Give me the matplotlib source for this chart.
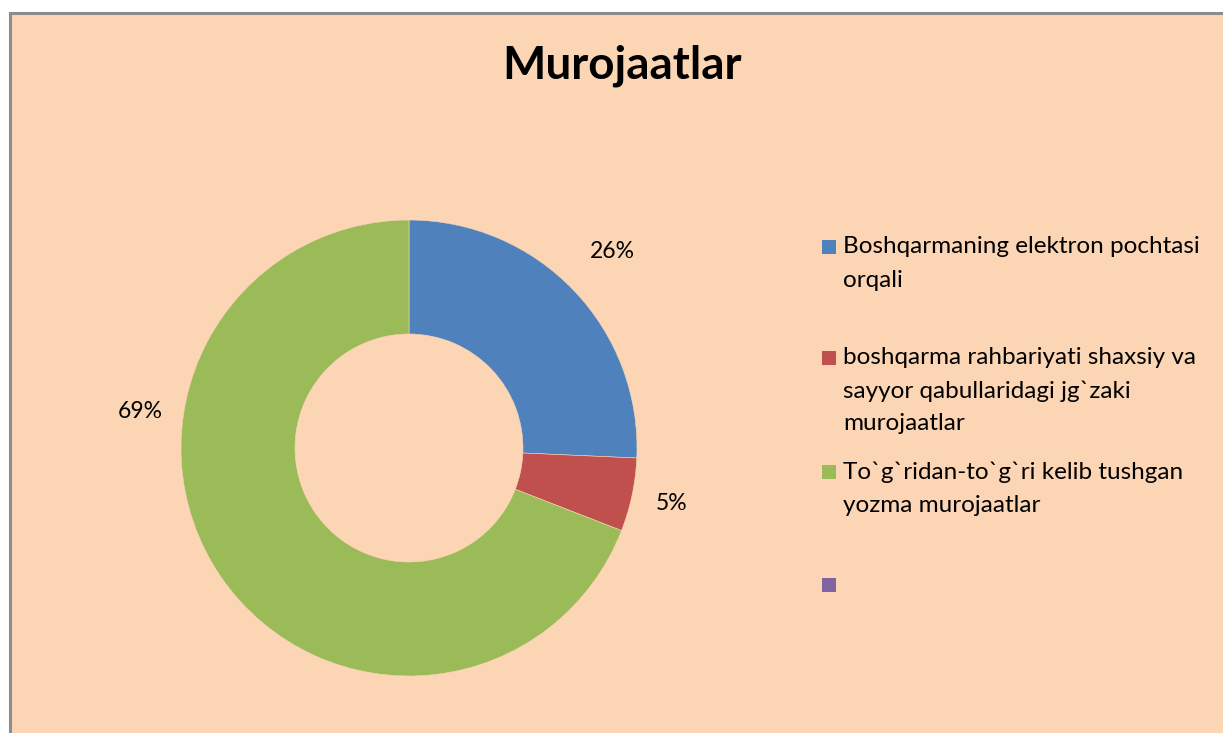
import matplotlib
matplotlib.use("Agg")
import matplotlib.pyplot as plt
from matplotlib.patches import Rectangle

W, H = 1223, 733
title = "Murojaatlar"
categories = [
    "Boshqarmaning elektron pochtasi\norqali",
    "boshqarma rahbariyati shaxsiy va\nsayyor qabullaridagi jg`zaki\nmurojaatlar",
    "To`g`ridan-to`g`ri kelib tushgan\nyozma murojaatlar",
    "",
]
values = [25.7, 5.2, 69.1, 0.0]
pct_labels = ["26%", "5%", "69%"]
colors = ["#4F81BD", "#C0504D", "#9BBB59", "#8064A2"]
bg = "#FCD5B5"

FONT = ["Lato", "DejaVu Sans"]
plt.rcParams["font.family"] = FONT

fig = plt.figure(figsize=(W / 100, H / 100), dpi=100)
fig.patch.set_facecolor("white")

def fx(px):
    return px / W

def fy(py):
    return 1 - py / H

# chart area background with border (extends beyond right/bottom edge)
fig.patches.append(Rectangle((fx(10), fy(760)), fx(1250) - fx(10), fy(13) - fy(760),
                             transform=fig.transFigure, facecolor=bg,
                             edgecolor="#8C8C8C", linewidth=2.2, zorder=-5))

# donut
cx, cy, R = 409, 448, 228
ax = fig.add_axes([fx(cx - R), fy(cy + R), fx(2 * R), fy(cy - R) - fy(cy + R)])
ax.set_zorder(2)
ax.patch.set_visible(False)
vals = [v for v in values if v > 0]
cols = [c for v, c in zip(values, colors) if v > 0]
ax.pie(vals, colors=cols, startangle=90, counterclock=False, radius=1.0,
       wedgeprops=dict(width=0.5, edgecolor=bg, linewidth=0.4))
ax.set_xlim(-1, 1)
ax.set_ylim(-1, 1)
ax.set_aspect("equal")
ax.axis("off")

# percentage labels (Excel-style placement)
label_pos = [(612, 251), (672, 503), (140, 412)]
for (px, py), lab in zip(label_pos, pct_labels):
    fig.text(fx(px), fy(py), lab, ha="center", va="center", fontsize=16.5, color="black")

# title
fig.text(fx(622), fy(66), title, ha="center", va="center", fontsize=33,
         fontweight="bold", color="black")

# legend (manual, mimicking Excel's spacing)
line_h = 33
entry_top = [247, 358, 472, 585]
for cat, col, ty in zip(categories, colors, entry_top):
    fig.patches.append(Rectangle((fx(822), fy(ty + 7)), fx(14), fy(ty - 7) - fy(ty + 7),
                                 transform=fig.transFigure, facecolor=col,
                                 edgecolor="none", zorder=3))
    if cat:
        for i, line in enumerate(cat.split("\n")):
            fig.text(fx(843), fy(ty + i * line_h), line, ha="left", va="center",
                     fontsize=17.5, color="black")

fig.savefig("out.png", dpi=100, facecolor=fig.get_facecolor())
